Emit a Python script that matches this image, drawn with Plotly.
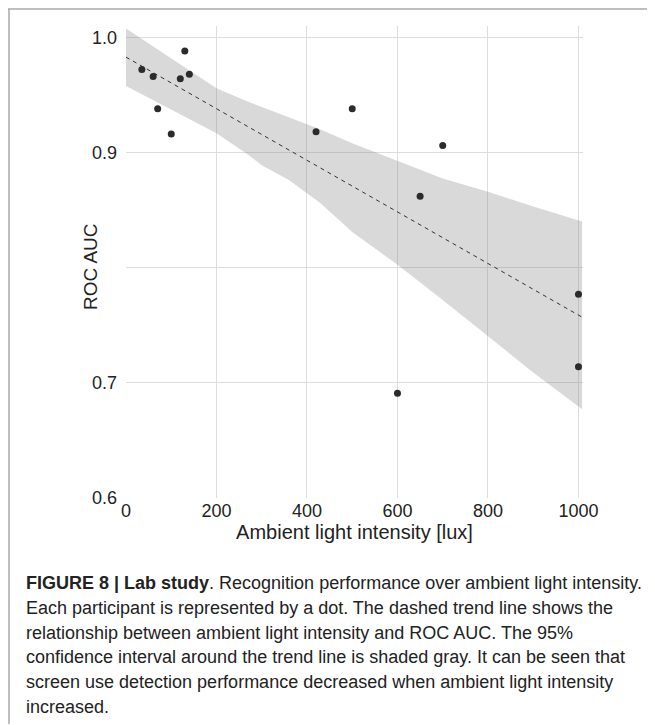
import plotly.graph_objects as go

# ---- data ----
lux = [35, 60, 70, 100, 120, 130, 140, 420, 500, 600, 650, 700, 1000, 1000]
roc_auc = [0.972, 0.966, 0.938, 0.916, 0.964, 0.988, 0.968, 0.918, 0.938, 0.691, 0.862, 0.906, 0.777, 0.714]

trend_x = [0, 1008]
trend_y = [0.9828, 0.7570]

band_x = [0, 100, 200, 270, 300, 360, 430, 500, 600, 700, 800, 900, 1008]
band_upper = [1.0077, 0.982, 0.9558, 0.944, 0.9395, 0.930, 0.920, 0.908, 0.893, 0.8775, 0.866, 0.853, 0.840]
band_lower = [0.9578, 0.937, 0.9167, 0.898, 0.889, 0.876, 0.856, 0.831, 0.8025, 0.772, 0.7403, 0.709, 0.677]

x_ticks = [0, 200, 400, 600, 800, 1000]
y_ticks = [0.6, 0.7, 0.8, 0.9, 1.0]
# the 0.8 label is covered by the axis title in the reference
y_tick_text = ["0.6", "0.7", "", "0.9", "1.0"]

caption_lines = [
    "<b>FIGURE 8 | Lab study</b>. Recognition performance over ambient light intensity.",
    "Each participant is represented by a dot. The dashed trend line shows the",
    "relationship between ambient light intensity and ROC AUC. The 95%",
    "confidence interval around the trend line is shaded gray. It can be seen that",
    "screen use detection performance decreased when ambient light intensity",
    "increased.",
]

# ---- layout geometry (page has an 8px default body margin) ----
OFF = 8
W, H = 655 - OFF, 725 - OFF
L, R, T, B = 126 - OFF, 72, 26 - OFF, 227
PW, PH = W - L - R, H - T - B
FONT = "Liberation Sans, Arial, Helvetica, sans-serif"
TXT = "#222222"


def px_to_paper_x(px):
    # px given in page pixels
    return (px - OFF - L) / PW


def py_to_paper_y(py):
    return (H - B - (py - OFF)) / PH


fig = go.Figure()

# confidence band
fig.add_trace(go.Scatter(x=band_x, y=band_upper, mode="lines", line=dict(width=0),
                         hoverinfo="skip", showlegend=False))
fig.add_trace(go.Scatter(x=band_x, y=band_lower, mode="lines", line=dict(width=0),
                         fill="tonexty", fillcolor="rgba(128,128,128,0.30)",
                         hoverinfo="skip", showlegend=False))
# trend line
fig.add_trace(go.Scatter(x=trend_x, y=trend_y, mode="lines",
                         line=dict(color="#333333", width=1, dash="4px,4px"),
                         showlegend=False))
# participants
fig.add_trace(go.Scatter(x=lux, y=roc_auc, mode="markers",
                         marker=dict(color="#2b2b2b", size=7), showlegend=False))

fig.update_xaxes(range=[0, 1010], tickvals=x_ticks, showgrid=True, gridcolor="#dddddd",
                 gridwidth=1.3, zeroline=False, showline=False, ticks="",
                 ticklabelstandoff=0,
                 tickfont=dict(family=FONT, size=18, color=TXT),
                 title=dict(text="Ambient light intensity [lux]",
                            font=dict(family=FONT, size=20, color=TXT), standoff=0))
fig.update_yaxes(range=[0.6, 1.0098], tickvals=y_ticks, ticktext=y_tick_text, showgrid=True,
                 gridcolor="#dddddd", gridwidth=1.3, zeroline=False, showline=False, ticks="",
                 ticklabelstandoff=8,
                 tickfont=dict(family=FONT, size=18, color=TXT))

annotations = [dict(
    text="ROC AUC", xref="paper", yref="paper",
    x=px_to_paper_x(90), y=py_to_paper_y(267), textangle=-90,
    xanchor="center", yanchor="middle", showarrow=False,
    font=dict(family=FONT, size=19, color=TXT))]

y0 = 583
for i, line in enumerate(caption_lines):
    annotations.append(dict(
        text=line, xref="paper", yref="paper",
        x=px_to_paper_x(24), y=py_to_paper_y(y0 + 24.8 * i),
        xanchor="left", yanchor="middle", showarrow=False, align="left",
        font=dict(family=FONT, size=18, color=TXT)))

shapes = [
    dict(type="line", xref="paper", yref="paper",
         x0=px_to_paper_x(8), x1=px_to_paper_x(656),
         y0=py_to_paper_y(9), y1=py_to_paper_y(9),
         line=dict(color="#a8a8a8", width=1.5)),
    dict(type="line", xref="paper", yref="paper",
         x0=px_to_paper_x(9), x1=px_to_paper_x(9),
         y0=py_to_paper_y(9), y1=py_to_paper_y(724),
         line=dict(color="#a8a8a8", width=1.5)),
]

fig.update_layout(width=W, height=H, margin=dict(l=L, r=R, t=T, b=B, autoexpand=False),
                  plot_bgcolor="white", paper_bgcolor="white",
                  annotations=annotations, shapes=shapes,
                  font=dict(family=FONT, color=TXT))

fig.write_html("out.html", config={"displayModeBar": False})
